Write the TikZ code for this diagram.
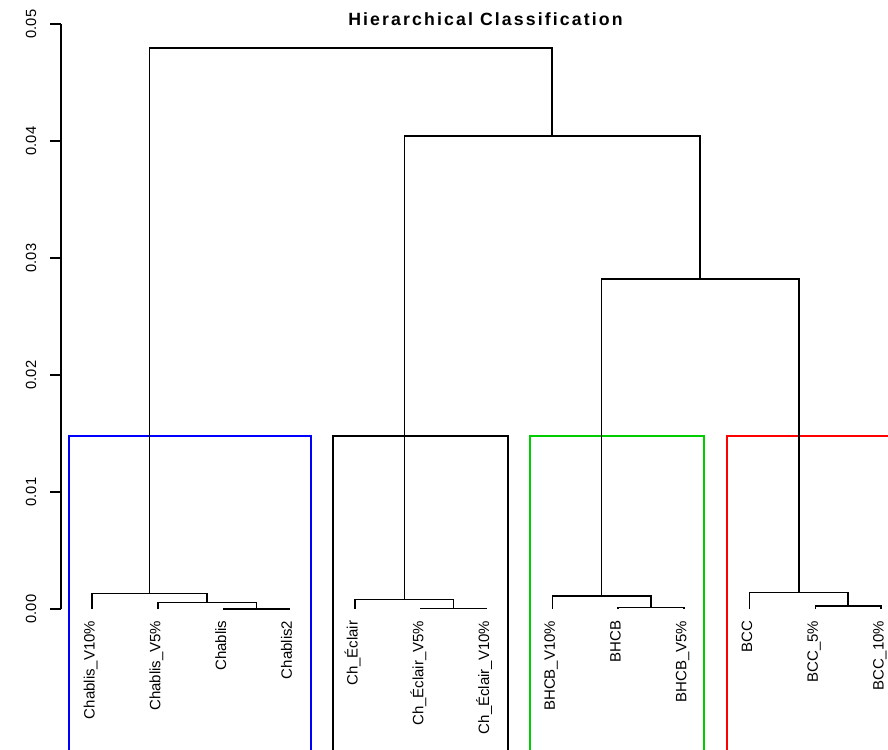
\documentclass[tikz,border=0pt]{standalone}
\usepackage{fontspec}
\setmainfont{Liberation Sans}
\newfontfamily\titlefont[LetterSpace=12]{Liberation Sans}
\definecolor{rgreen}{RGB}{0,205,0}
\definecolor{rblue}{RGB}{0,0,255}
\definecolor{rred}{RGB}{255,0,0}
\begin{document}
\begin{tikzpicture}[x=1pt,y=-1pt,
  dend/.style={line width=1.5pt,black},
  clus/.style={line width=1.5pt},
  leaflab/.style={rotate=90,anchor=mid east,inner sep=0pt,font=\fontsize{15}{15}\selectfont},
  ticklab/.style={rotate=90,anchor=center,inner sep=0pt,font=\fontsize{14.7}{14.7}\selectfont},
  ttl/.style={anchor=base,inner sep=0pt,font=\titlefont\bfseries\fontsize{17.7}{17.7}\selectfont}]
\useasboundingbox (0,0) rectangle (888,749);
\clip (0,0) rectangle (888,749);
% title
\node[ttl] (title) at (485.5,25.5) {Hierarchical Classification};
% axis
\coordinate (ax0) at (61,609);
\coordinate (ax5) at (61,24);
\draw[line width=1.3pt] (ax0) -- (ax5);
\foreach \k/\v/\y in {0/0.00/609,1/0.01/492,2/0.02/375,3/0.03/258,4/0.04/141,5/0.05/24}{
  \coordinate (tk\k) at (61,\y);
  \coordinate (tke\k) at (50,\y);
  \draw[line width=1.3pt] (tk\k) -- (tke\k);
  \node[ticklab] (lab\k) at (31,\y) {\v};
}
% leaves
\foreach \i/\nm in {1/Chablis\_V10\%,2/Chablis\_V5\%,3/Chablis,4/Chablis2,5/Ch\_Éclair,6/Ch\_Éclair\_V5\%,7/Ch\_Éclair\_V10\%,8/BHCB\_V10\%,9/BHCB,10/BHCB\_V5\%,11/BCC,12/BCC\_5\%,13/BCC\_10\%}{
  \pgfmathsetmacro{\xx}{92+65.75*(\i-1)}
  \coordinate (L\i) at (\xx,609);
  \node[leaflab] (n\i) at (\xx,620.5) {\nm};
}
% merges
\coordinate (A) at (256.4,608.8);
\coordinate (B) at (207,602.7);
\coordinate (C) at (149.5,593.3);
\coordinate (D) at (453.6,608.3);
\coordinate (E) at (404.3,599.3);
\coordinate (F) at (650.9,607.7);
\coordinate (G) at (601.6,596);
\coordinate (H) at (848.1,606);
\coordinate (I) at (798.8,592.7);
\coordinate (J) at (700.2,279);
\coordinate (K) at (552,136);
\coordinate (M) at (350.8,48);
% cluster rectangles
\coordinate (b1a) at (69,760);   \coordinate (b1b) at (311,436);
\coordinate (b2a) at (333,760);  \coordinate (b2b) at (508,436);
\coordinate (b3a) at (530,760);  \coordinate (b3b) at (704,436);
\coordinate (b4a) at (727,760);  \coordinate (b4b) at (905,436);
\draw[clus,draw=rblue] (b1a) |- (b1b) -- (b1b |- b1a);
\draw[clus,draw=black] (b2a) |- (b2b) -- (b2b |- b2a);
\draw[clus,draw=rgreen] (b3a) |- (b3b) -- (b3b |- b3a);
\draw[clus,draw=rred] (b4a) |- (b4b) -- (b4b |- b4a);
% dendrogram
\draw[dend] (L3) |- (A) -| (L4);
\draw[dend] (L2) |- (B) -| (A);
\draw[dend] (L1) |- (C) -| (B);
\draw[dend] (L6) |- (D) -| (L7);
\draw[dend] (L5) |- (E) -| (D);
\draw[dend] (L9) |- (F) -| (L10);
\draw[dend] (L8) |- (G) -| (F);
\draw[dend] (L12) |- (H) -| (L13);
\draw[dend] (L11) |- (I) -| (H);
\draw[dend] (G) |- (J) -| (I);
\draw[dend] (E) |- (K) -| (J);
\draw[dend] (C) |- (M) -| (K);
\end{tikzpicture}
\end{document}
